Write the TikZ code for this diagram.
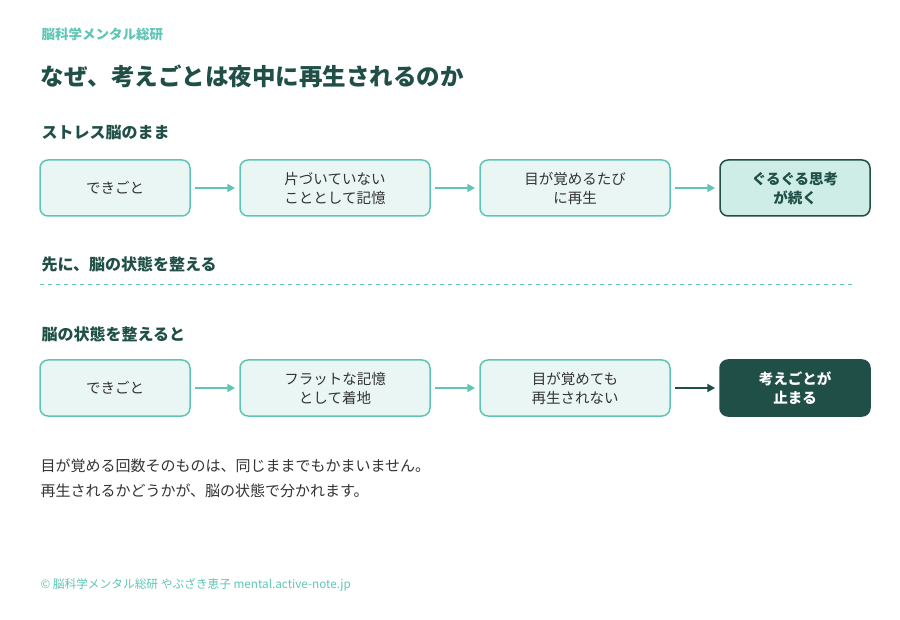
\documentclass[tikz,border=0pt]{standalone}
\usepackage{fontspec}
\setmainfont{Noto Sans CJK JP}
\usetikzlibrary{arrows.meta}
\definecolor{teal}{HTML}{5FC6B6}
\definecolor{dk}{HTML}{1F4F47}
\definecolor{lf}{HTML}{EAF6F3}
\definecolor{mf}{HTML}{CDEDE6}
\definecolor{txt}{HTML}{333333}
\begin{document}
\begin{tikzpicture}[x=1pt,y=-1pt,
 box/.style={draw=teal,line width=1.5pt,fill=lf,rounded corners=8pt,minimum height=56pt,align=center,font=\fontsize{14.5}{19}\selectfont,text=txt},
 arr/.style={-{Triangle[length=8pt,width=8pt]},line width=2pt,draw=teal},
 head/.style={anchor=west,font=\bfseries\fontsize{16}{18}\selectfont,text=dk}]
\useasboundingbox[fill=white] (0,0) rectangle (900,620);
\node[anchor=west,font=\bfseries\fontsize{13.5}{15}\selectfont,text=teal] (brand) at (38,34) {脳科学メンタル総研};
\node[anchor=west,font=\bfseries\fontsize{23.5}{27}\selectfont,text=dk] (title) at (37,76) {なぜ、考えごとは夜中に再生されるのか};
\node[head] (h1) at (38,133) {ストレス脳のまま};
\node[box,minimum width=150pt] (a1) at (115,188) {できごと};
\node[box,minimum width=190pt] (a2) at (335,188) {片づいていない\\こととして記憶};
\node[box,minimum width=190pt] (a3) at (575,188) {目が覚めるたび\\に再生};
\node[box,minimum width=150pt,draw=dk,fill=mf,font=\bfseries\fontsize{14.5}{19}\selectfont,text=dk] (a4) at (795,188) {ぐるぐる思考\\が続く};
\draw[arr] ([xshift=4pt]a1.east) -- ([xshift=-4pt]a2.west);
\draw[arr] ([xshift=4pt]a2.east) -- ([xshift=-4pt]a3.west);
\draw[arr] ([xshift=4pt]a3.east) -- ([xshift=-4pt]a4.west);
\node[head] (h2) at (38,264) {先に、脳の状態を整える};
\coordinate (d1) at (40,285); \coordinate (d2) at (855,285);
\draw[teal,line width=1pt,dash pattern=on 4pt off 4pt] (d1) -- (d2);
\node[head] (h3) at (38,334) {脳の状態を整えると};
\node[box,minimum width=150pt] (b1) at (115,388) {できごと};
\node[box,minimum width=190pt] (b2) at (335,388) {フラットな記憶\\として着地};
\node[box,minimum width=190pt] (b3) at (575,388) {目が覚めても\\再生されない};
\node[box,minimum width=150pt,draw=dk,fill=dk,font=\bfseries\fontsize{14.5}{19}\selectfont,text=white] (b4) at (795,388) {考えごとが\\止まる};
\draw[arr] ([xshift=4pt]b1.east) -- ([xshift=-4pt]b2.west);
\draw[arr] ([xshift=4pt]b2.east) -- ([xshift=-4pt]b3.west);
\draw[arr,draw=dk] ([xshift=4pt]b3.east) -- ([xshift=-4pt]b4.west);
\node[anchor=west,font=\fontsize{15}{25}\selectfont,text=txt,align=left] (note) at (37,478) {目が覚める回数そのものは、同じままでもかまいません。\\再生されるかどうかが、脳の状態で分かれます。};
\node[anchor=west,font=\fontsize{11.7}{13}\selectfont,text=teal] (foot) at (37,585) {© 脳科学メンタル総研 やぶざき恵子 mental.active-note.jp};
\end{tikzpicture}
\end{document}
